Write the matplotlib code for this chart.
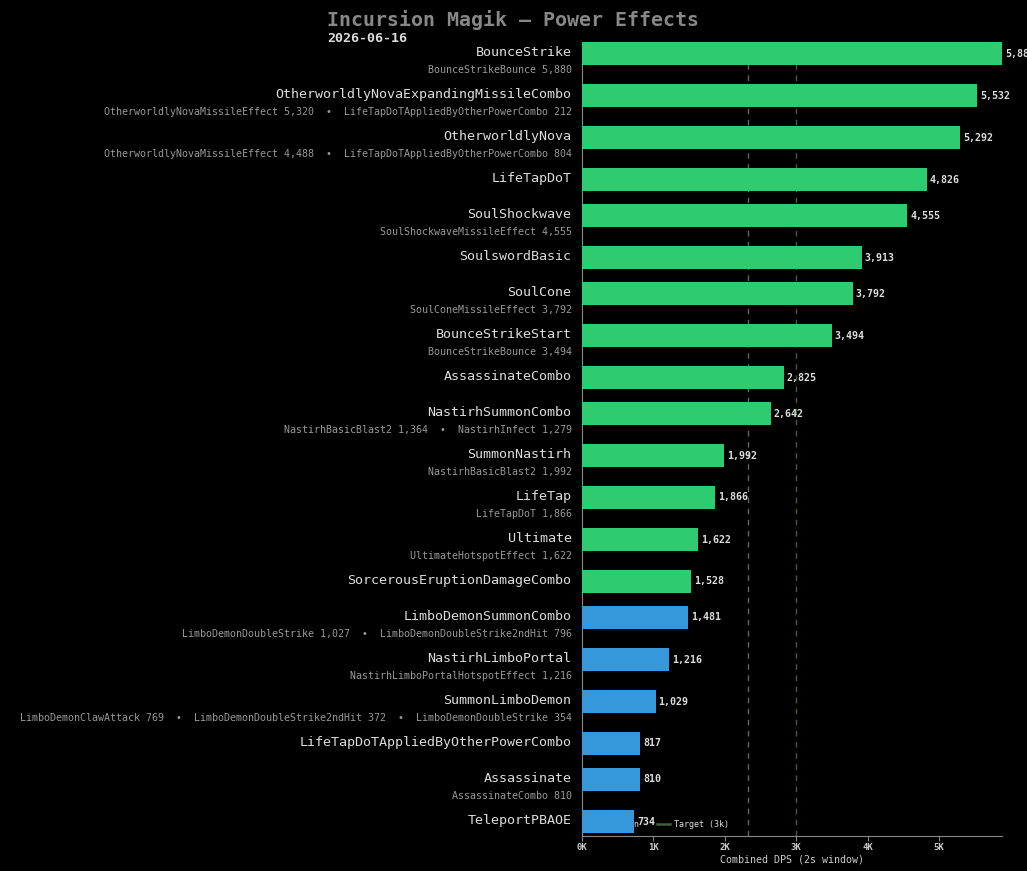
import matplotlib
matplotlib.use("Agg")
import matplotlib.pyplot as plt
from matplotlib.ticker import FuncFormatter
import numpy as np

# power effects, top to bottom
powers = [
    "BounceStrike", "OtherworldlyNovaExpandingMissileCombo", "OtherworldlyNova",
    "LifeTapDoT", "SoulShockwave", "SoulswordBasic", "SoulCone",
    "BounceStrikeStart", "AssassinateCombo", "NastirhSummonCombo",
    "SummonNastirh", "LifeTap", "Ultimate", "SorcerousEruptionDamageCombo",
    "LimboDemonSummonCombo", "NastirhLimboPortal", "SummonLimboDemon",
    "LifeTapDoTAppliedByOtherPowerCombo", "Assassinate", "TeleportPBAOE",
]
dps = [5880, 5532, 5292, 4826, 4555, 3913, 3792, 3494, 2825, 2642,
       1992, 1866, 1622, 1528, 1481, 1216, 1029, 817, 810, 734]
groups = ["magik"] * 14 + ["limbo"] * 6
parts = [
    [("BounceStrikeBounce", 5880)],
    [("OtherworldlyNovaMissileEffect", 5320), ("LifeTapDoTAppliedByOtherPowerCombo", 212)],
    [("OtherworldlyNovaMissileEffect", 4488), ("LifeTapDoTAppliedByOtherPowerCombo", 804)],
    [],
    [("SoulShockwaveMissileEffect", 4555)],
    [],
    [("SoulConeMissileEffect", 3792)],
    [("BounceStrikeBounce", 3494)],
    [],
    [("NastirhBasicBlast2", 1364), ("NastirhInfect", 1279)],
    [("NastirhBasicBlast2", 1992)],
    [("LifeTapDoT", 1866)],
    [("UltimateHotspotEffect", 1622)],
    [],
    [("LimboDemonDoubleStrike", 1027), ("LimboDemonDoubleStrike2ndHit", 796)],
    [("NastirhLimboPortalHotspotEffect", 1216)],
    [("LimboDemonClawAttack", 769), ("LimboDemonDoubleStrike2ndHit", 372),
     ("LimboDemonDoubleStrike", 354)],
    [],
    [("AssassinateCombo", 810)],
    [],
]
target = 3000
colors = {"magik": "#2ecc71", "limbo": "#3498db"}

plt.rcParams["font.family"] = "DejaVu Sans Mono"

# rows with a breakdown line get a bit more room
ypos = [0.0]
for p in parts[:-1]:
    ypos.append(ypos[-1] + (7 / 6 if p else 1.0))
ypos = np.array(ypos)
bar_h = 0.64

fig = plt.figure(figsize=(10.27, 8.71), dpi=100, facecolor="black")
ax = fig.add_axes([582 / 1027, 35 / 871, 420 / 1027, 794 / 871])
ax.set_facecolor("black")

ax.barh(ypos, dps, height=bar_h, color=[colors[g] for g in groups], zorder=6)

med = float(np.median(dps))
ax.axvline(med, color="#666666", ls=(0, (4, 4)), lw=1, zorder=2, label="Median")
ax.axvline(target, color="#3e5f3e", ls=(0, (4, 4)), lw=1, zorder=2, label="Target (3k)")

ax.set_xlim(0, max(dps))
ax.set_ylim(ypos[-1] + 14.5 / 36, ypos[0] - 11.5 / 36)

for y, v, name, p in zip(ypos, dps, powers, parts):
    ax.annotate(f"{v:,}", xy=(v, y), xytext=(2.2, 0), textcoords="offset points",
                ha="left", va="center", fontsize=7.2, color="#dddddd",
                fontweight="bold", zorder=7, annotation_clip=False)
    ax.annotate(name, xy=(0, y), xycoords=("axes fraction", "data"),
                xytext=(-7.5, 0.5), textcoords="offset points",
                ha="right", va="center", fontsize=9.6, color="#dddddd")
    if p:
        sub = "  •  ".join(f"{n} {val:,}" for n, val in p)
        ax.annotate(sub, xy=(0, y + 0.46), xycoords=("axes fraction", "data"),
                    xytext=(-7.5, 0), textcoords="offset points",
                    ha="right", va="center", fontsize=7.2, color="#999999")

ax.set_xticks(range(0, 6000, 1000))
ax.xaxis.set_major_formatter(FuncFormatter(lambda x, _: f"{int(x / 1000)}K"))
ax.tick_params(axis="x", colors="#888888", labelcolor="#cccccc", labelsize=6.5,
               length=3.5, width=0.8, pad=1.5)
for t in ax.get_xticklabels():
    t.set_fontweight("bold")
ax.set_yticks([])
ax.set_xlabel("Combined DPS (2s window)", fontsize=7.2, color="#cccccc", labelpad=2)

for s in ("top", "right"):
    ax.spines[s].set_visible(False)
for s in ("left", "bottom"):
    ax.spines[s].set_color("#888888")
    ax.spines[s].set_linewidth(0.8)

leg = ax.legend(loc="lower left", bbox_to_anchor=(0.008, 0.0), ncol=2,
                frameon=False, fontsize=6, handlelength=1.55, columnspacing=2.0,
                handletextpad=0.5, labelcolor="#dddddd")
for h in leg.get_lines():
    h.set_linestyle("-")
    h.set_linewidth(1.8)
leg.set_zorder(3)

fig.text(327 / 1027, 1 - 20 / 871, "Incursion Magik — Power Effects", fontsize=14.3,
         fontweight="bold", color="#888888", ha="left", va="center")
fig.text(327 / 1027, 1 - 38 / 871, "2026-06-16", fontsize=9.6,
         fontweight="bold", color="#dddddd", ha="left", va="center")

fig.savefig("out.png", dpi=100, facecolor="black")
